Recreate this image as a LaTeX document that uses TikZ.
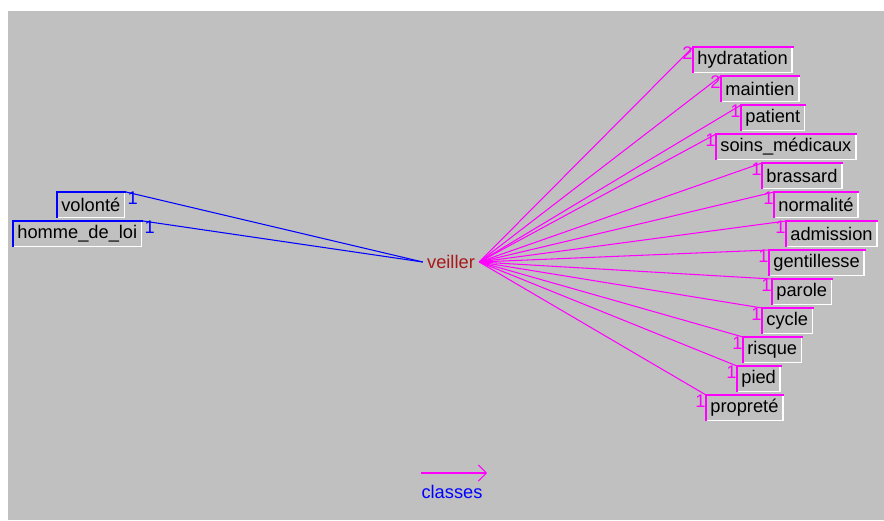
\documentclass[tikz,border=0pt]{standalone}
\usepackage{fontspec}
\setmainfont{Liberation Sans}
\usetikzlibrary{positioning,arrows.meta}
\usepackage{xcolor}
\definecolor{fond}{RGB}{192,192,192}
\definecolor{rouge}{RGB}{170,25,25}
\definecolor{rose}{RGB}{255,0,255}
\definecolor{bleu}{RGB}{0,0,255}
\newcommand{\police}{\fontsize{10.4}{12}\selectfont}
% bord blanc en bas et a droite, bord colore en haut et a gauche
\newcommand{\cadre}[2]{%
  \draw[white, line width=0.9pt] (#1.north east) -- (#1.south east) -- (#1.south west);
  \draw[#2, line width=1pt] (#1.south west) -- (#1.north west) -- ([xshift=0.03cm]#1.north east);}

\begin{document}
\begin{tikzpicture}[x=0.02cm, y=-0.02cm]
      \tikzstyle{mot} = [anchor=north west, inner xsep=0.08cm, inner ysep=0pt, minimum height=0.5cm, font=\police]
      \tikzstyle{lien} = [line width=0.6pt]
      \tikzstyle{chiffre} = [inner sep=0pt, yshift=-0.12cm, font=\police]

      \useasboundingbox (0,0) rectangle (884,520);
      \fill[white] (0,0) rectangle (884,520);
      \fill[fond] (8,11) rectangle (884,520);

      \node[text=rouge, font=\police, inner sep=0.08cm] (veiller) at (451,262) {veiller};

      % classes a droite
      \node[mot] (hyd) at (693,47) {hydratation};
      \node[mot] (mai) at (721,76) {maintien};
      \node[mot] (pat) at (741,105) {patient};
      \node[mot] (soi) at (716,134) {soins\_médicaux};
      \node[mot] (bra) at (762,163) {brassard};
      \node[mot] (nor) at (774,192) {normalité};
      \node[mot] (adm) at (786,221) {admission};
      \node[mot] (gen) at (769,250) {gentillesse};
      \node[mot] (par) at (772,279) {parole};
      \node[mot] (cyc) at (762,308) {cycle};
      \node[mot] (ris) at (743,337) {risque};
      \node[mot] (pie) at (737,366) {pied};
      \node[mot] (pro) at (706,395) {propreté};

      % classes a gauche
      \node[mot] (vol) at (57,192) {volonté};
      \node[mot] (hom) at (13,221) {homme\_de\_loi};

      \foreach \n in {hyd,mai,pat,soi,bra,nor,adm,gen,par,cyc,ris,pie,pro} {\cadre{\n}{rose}}
      \foreach \n in {vol,hom} {\cadre{\n}{bleu}}

      \draw[lien, rose] (veiller.east) -- (hyd.north west) node[chiffre, anchor=east, text=rose] {2};
      \draw[lien, rose] (veiller.east) -- (mai.north west) node[chiffre, anchor=east, text=rose] {2};
      \draw[lien, rose] (veiller.east) -- (pat.north west) node[chiffre, anchor=east, text=rose] {1};
      \draw[lien, rose] (veiller.east) -- (soi.north west) node[chiffre, anchor=east, text=rose] {1};
      \draw[lien, rose] (veiller.east) -- (bra.north west) node[chiffre, anchor=east, text=rose] {1};
      \draw[lien, rose] (veiller.east) -- (nor.north west) node[chiffre, anchor=east, text=rose] {1};
      \draw[lien, rose] (veiller.east) -- (adm.north west) node[chiffre, anchor=east, text=rose] {1};
      \draw[lien, rose] (veiller.east) -- (gen.north west) node[chiffre, anchor=east, text=rose] {1};
      \draw[lien, rose] (veiller.east) -- (par.north west) node[chiffre, anchor=east, text=rose] {1};
      \draw[lien, rose] (veiller.east) -- (cyc.north west) node[chiffre, anchor=east, text=rose] {1};
      \draw[lien, rose] (veiller.east) -- (ris.north west) node[chiffre, anchor=east, text=rose] {1};
      \draw[lien, rose] (veiller.east) -- (pie.north west) node[chiffre, anchor=east, text=rose] {1};
      \draw[lien, rose] (veiller.east) -- (pro.north west) node[chiffre, anchor=east, text=rose] {1};

      \draw[lien, bleu] (veiller.west) -- ([xshift=0.03cm]vol.north east) node[chiffre, anchor=west, text=bleu, xshift=0.02cm] {1};
      \draw[lien, bleu] (veiller.west) -- ([xshift=0.03cm]hom.north east) node[chiffre, anchor=west, text=bleu, xshift=0.02cm] {1};

      % legende
      \coordinate (leg1) at (421,473);
      \coordinate (leg2) at (487,473);
      \draw[lien, rose, -{Straight Barb[length=0.16cm, width=0.32cm]}] (leg1) -- (leg2);
      \node[text=bleu, font=\police, inner sep=0pt] (classes) at (452,492) {classes};
\end{tikzpicture}
\end{document}
